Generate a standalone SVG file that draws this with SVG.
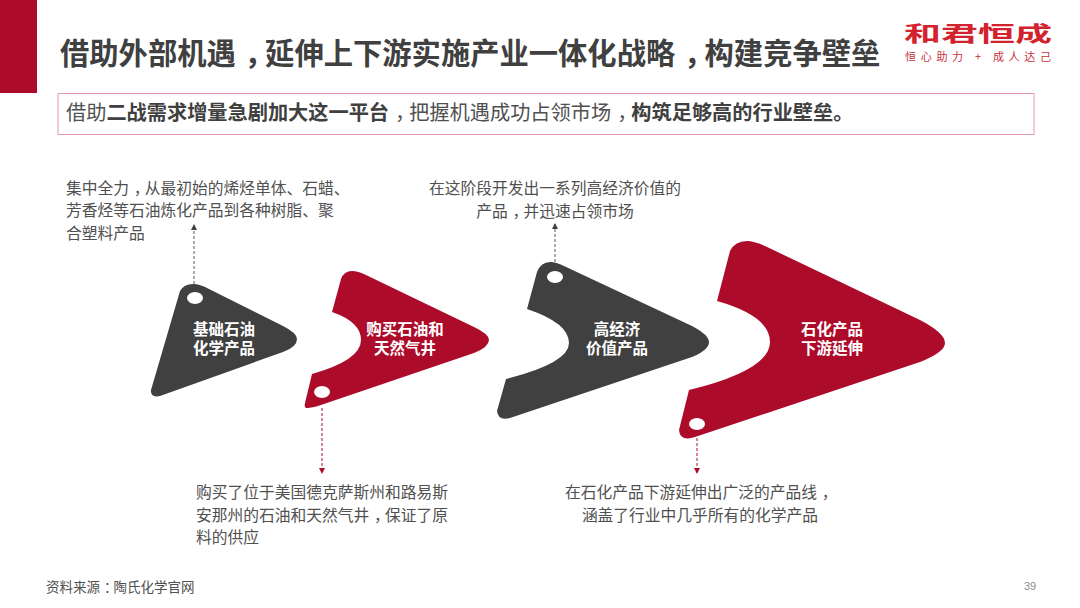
<svg xmlns="http://www.w3.org/2000/svg" width="1080" height="608" viewBox="0 0 1080 608">
<style>
text{font-family:"Noto Sans CJK SC","Noto Sans",sans-serif;fill:#404040}
.b{font-size:15.75px;fill:#505050}
.c{text-anchor:middle}
.n{font-size:15.5px;font-weight:700;fill:#fff;text-anchor:middle}
.dk{fill:#404040}.rd{fill:#ad0b2a}
.hole{fill:#fff}
.s{letter-spacing:.3em}.m{letter-spacing:-.3em}
.cg{stroke:#595959;stroke-width:1;stroke-dasharray:3 2;fill:none}
.cr{stroke:#ad0b2a;stroke-width:1;stroke-dasharray:3 2;fill:none}
</style>
<defs>
<marker id="ag" markerWidth="6" markerHeight="6" refX="5" refY="3" orient="auto" markerUnits="userSpaceOnUse"><path d="M0,0L6,3L0,6Z" fill="#404040"/></marker>
<marker id="ar" markerWidth="6" markerHeight="6" refX="5" refY="3" orient="auto" markerUnits="userSpaceOnUse"><path d="M0,0L6,3L0,6Z" fill="#ad0b2a"/></marker>
</defs>
<rect x="0" y="0" width="37" height="93" class="rd"/>
<text x="60" y="64" font-size="29.3" font-weight="700">借助外部机<tspan class="s">遇</tspan><tspan class="m">，</tspan>延伸上下游实施产业一体化战<tspan class="s">略</tspan><tspan class="m">，</tspan>构建竞争壁垒</text>
<rect x="58" y="93.500" width="976" height="41" fill="#fff" stroke="#e39aa8" stroke-width="1"/>
<text x="66" y="120" font-size="20.200" style="fill:#505050">借助<tspan font-weight="700" style="fill:#404040">二战需求增量急剧加大这一平<tspan class="s">台</tspan></tspan><tspan class="m">，</tspan>把握机遇成功占领市<tspan class="s">场</tspan><tspan class="m">，</tspan><tspan font-weight="700" style="fill:#404040">构筑足够高的行业壁垒。</tspan></text>
<g id="logo">
<text x="904" y="41" font-size="21" font-weight="700" style="fill:#d2222d" textLength="148" lengthAdjust="spacingAndGlyphs">和君恒成</text>
<text x="905" y="61" font-size="11" style="fill:#c8323c" textLength="146" lengthAdjust="spacing">恒心助力 + 成人达己</text>
</g>
<g id="connectors">
<path class="cg" d="M194,284V225" marker-end="url(#ag)"/>
<path class="cr" d="M322,408V473" marker-end="url(#ar)"/>
<path class="cg" d="M555,262V224" marker-end="url(#ag)"/>
<path class="cr" d="M697,438V473" marker-end="url(#ar)"/>
</g>
<g id="n1">
<path class="dk" d="M180,291Q184,284 193,284Q200,284 209,289L283,326Q297,333 297,339Q297,347 283,352L160,396Q150,398 151,390Z"/>
<ellipse class="hole" cx="195" cy="298" rx="8" ry="6"/>
<text class="n"><tspan x="224" y="335">基础石油</tspan><tspan x="224" y="354">化学产品</tspan></text>
</g>
<g id="n2">
<path class="rd" d="M332,312L341,279Q344,271 352,271Q358,271 366,275L474,327Q489,334 489,340Q489,347 474,353L318,406Q310,408 306,408Q304,407 305,403L312,374Q361,360 361,340Q361,322 332,312Z"/>
<ellipse class="hole" cx="322" cy="392" rx="8" ry="6"/>
<text class="n"><tspan x="405" y="335">购买石油和</tspan><tspan x="405" y="354">天然气井</tspan></text>
</g>
<g id="n3">
<path class="dk" d="M527,309L537,272Q541,262 550,262Q556,262 564,266L692,326Q709,335 709,342Q709,350 692,357L510,418Q498,421 497,411L506,379Q569,363 569,343Q569,323 527,309Z"/>
<ellipse class="hole" cx="555" cy="277" rx="8" ry="6"/>
<text class="n"><tspan x="617" y="335">高经济</tspan><tspan x="617" y="354">价值产品</tspan></text>
</g>
<g id="n4">
<path class="rd" d="M717,301L730,251Q735,241 747,241Q754,241 765,246L920,320Q945,333 945,343Q945,352 920,362L695,437Q680,442 679,430L689,390Q770,370 770,342Q770,316 717,301Z"/>
<ellipse class="hole" cx="697" cy="424" rx="8" ry="6"/>
<text class="n"><tspan x="832" y="335">石化产品</tspan><tspan x="832" y="354">下游延伸</tspan></text>
</g>
<g id="t1"><text class="b" x="66" y="194">集中全<tspan class="s">力</tspan><tspan class="m">，</tspan>从最初始的烯烃单体、石蜡、</text><text class="b" x="66" y="216">芳香烃等石油炼化产品到各种树脂、聚</text><text class="b" x="66" y="239">合塑料产品</text></g>
<g id="t2"><text class="b c" x="555" y="194">在这阶段开发出一系列高经济价值的</text><text class="b c" x="555" y="217">产<tspan class="s">品</tspan><tspan class="m">，</tspan>并迅速占领市场</text></g>
<g id="t3"><text class="b" x="196" y="498">购买了位于美国德克萨斯州和路易斯</text><text class="b" x="196" y="521">安那州的石油和天然气<tspan class="s">井</tspan><tspan class="m">，</tspan>保证了原</text><text class="b" x="196" y="543">料的供应</text></g>
<g id="t4"><text class="b c" x="699" y="498">在石化产品下游延伸出广泛的产品<tspan class="s">线</tspan><tspan class="m">，</tspan></text><text class="b c" x="700" y="521">涵盖了行业中几乎所有的化学产品</text></g>
<text x="46" y="592" font-size="13.500" style="fill:#505050">资料来<tspan class="s">源</tspan><tspan class="m">：</tspan>陶氏化学官网</text>
<text x="1024" y="590" font-size="11" style="fill:#8c8c8c;font-family:'Liberation Sans',sans-serif">39</text>
</svg>
